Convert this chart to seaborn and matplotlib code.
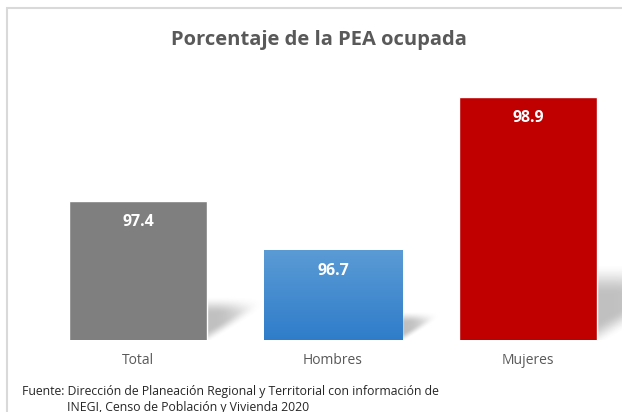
import numpy as np
import pandas as pd
import matplotlib
matplotlib.use("Agg")
import matplotlib.pyplot as plt
import matplotlib.colors as mcolors
from matplotlib.patches import Rectangle
import seaborn as sns

categories = ["Total", "Hombres", "Mujeres"]
values = [97.4, 96.7, 98.9]
bar_colors = ["#7F7F7F", "#4A8ED3", "#C00000"]
title = "Porcentaje de la PEA ocupada"
source_lines = ["Fuente: Dirección de Planeación Regional y Territorial con información de",
                "INEGI, Censo de Población y Vivienda 2020"]

sns.set_theme(style="white")
plt.rcParams['font.family'] = ['Open Sans', 'DejaVu Sans']

W, H = 622, 412
fig = plt.figure(figsize=(W / 100, H / 100), dpi=100)
ax_left, ax_right, ax_bottom, ax_top = 40, 622, 340, 60
ax = fig.add_axes([ax_left / W, 1 - ax_bottom / H, (ax_right - ax_left) / W, (ax_bottom - ax_top) / H])

df = pd.DataFrame({"cat": categories, "val": values})
ymin = 95.4
px_per_unit = 69.4
sns.barplot(data=df, x="cat", y="val", hue="cat", palette=bar_colors, width=0.71,
            legend=False, ax=ax, saturation=1, zorder=3)


def sm(t):
    t = np.clip(t, 0, 1)
    return t * t * (3 - 2 * t)


# soft shadows
for p in ax.patches:
    xr = p.get_x() + p.get_width()
    top = p.get_y() + p.get_height()
    hb = (top - ymin) * 0.28
    L = (top - ymin) * px_per_unit * 0.42 / 195
    nx, ny = 160, 100
    u = np.linspace(-0.05, 1.15, nx)
    v = np.linspace(0, 1.2, ny)
    U, V = np.meshgrid(u, v)
    a = (sm((V - U * 0.9 + 0.1) / 0.35) * sm((1.12 - V) / 0.45)
         * sm((1.05 - U) / 0.9) * sm((U + 0.05) / 0.05))
    a = a * 0.42
    img = np.zeros((ny, nx, 4))
    img[..., :3] = 0.42
    img[..., 3] = a
    ax.imshow(img, extent=[xr + u[0] * L, xr + u[-1] * L, ymin, ymin + v[-1] * hb],
              origin="lower", aspect="auto", zorder=2, interpolation="bilinear")

# gradient on Hombres bar
p = ax.patches[1]
grad = np.linspace(0, 1, 100)[:, None]
cmap = mcolors.LinearSegmentedColormap.from_list("g", ["#2F7DCA", "#5B9BD5"])
im = ax.imshow(grad, extent=[p.get_x(), p.get_x() + p.get_width(), ymin, p.get_y() + p.get_height()],
               origin="lower", aspect="auto", cmap=cmap, zorder=4)
im.set_clip_path(p)

ax.set_xlim(-0.503, 2.482)
ax.set_ylim(ymin, ymin + (ax_bottom - ax_top) / px_per_unit)

for i, v in enumerate(values):
    ax.annotate(f"{v:.1f}", (i, v), xytext=(0, -15), textcoords="offset points",
                ha="center", va="center", color="white", fontsize=11.5, fontweight="bold", zorder=6)

ax.set_xlabel("")
ax.set_ylabel("")
ax.set_yticks([])
ax.tick_params(axis="x", length=0, pad=9, labelsize=10, labelcolor="#595959")
for s in ax.spines.values():
    s.set_visible(False)

fig.text(319 / W, 1 - 40 / H, title, ha="center", va="center", fontsize=14.5,
         fontweight="bold", color="#595959")
fig.text(22 / W, 1 - 392 / H, source_lines[0], ha="left", va="center", fontsize=8.8, color="#262626")
fig.text(67 / W, 1 - 407 / H, source_lines[1], ha="left", va="center", fontsize=8.8, color="#262626")

fig.patches.append(Rectangle((7 / W, -0.2), 1.2, 1 - 8 / H + 0.2, transform=fig.transFigure,
                             fill=False, edgecolor="#D9D9D9", linewidth=1.5, figure=fig))

fig.savefig("out.png", dpi=100)
